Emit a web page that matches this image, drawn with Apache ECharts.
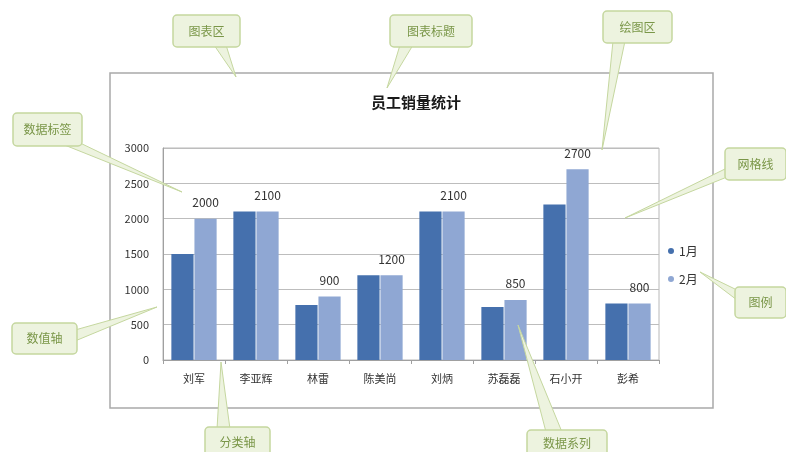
<!DOCTYPE html>
<html><head><meta charset="utf-8">
<script src="https://cdn.jsdelivr.net/npm/echarts@6/dist/echarts.min.js"></script>
<style>html,body{margin:0;padding:0;background:#fff}#c{width:786px;height:452px}</style>
</head><body><div id="c"></div>
<script>
var categories = ['刘军','李亚辉','林雷','陈美尚','刘炳','苏磊磊','石小开','彭希'];
var seriesNames = ['1月','2月'];
var jan = [1500, 2100, 780, 1200, 2100, 750, 2200, 800];
var feb = [2000, 2100, 900, 1200, 2100, 850, 2700, 800];
var yTicks = [0, 500, 1000, 1500, 2000, 2500, 3000];
var titleText = '员工销量统计';
var calloutTexts = ['图表区','图表标题','绘图区','数据标签','网格线','数值轴','图例','分类轴','数据系列'];

var FONT = '"Noto Sans CJK SC", "Noto Sans", sans-serif';
var chart = echarts.init(document.getElementById('c'));

var callouts = [
  {box:[173,15,67,32], base:[[214,45],[226,45]], tip:[236,77]},
  {box:[390,15,82,32], base:[[400,45],[413,45]], tip:[387,88]},
  {box:[603,11,69,32], base:[[613,41],[625,41]], tip:[602,150]},
  {box:[13,113,69,33], base:[[62,144],[76,141]], tip:[182,192]},
  {box:[725,148,61,32], base:[[727,168],[727,177]], tip:[625,218]},
  {box:[12,323,65,31], base:[[75,330],[75,341]], tip:[157,307]},
  {box:[735,287,51,31], base:[[737,290],[737,300]], tip:[700,272]},
  {box:[205,427,65,30], base:[[217,429],[230,429]], tip:[221,362]},
  {box:[527,430,80,26], base:[[546,432],[562,432]], tip:[518,325]}
];
var fillC = '#edf3df', strokeC = '#c5d79f', textC = '#7a9648';
var graphics = [{
  type:'rect', shape:{x:110,y:73,width:603,height:335}, z:-10,
  style:{fill:'#fff', stroke:'#a9a9a9', lineWidth:1.5}
}];
callouts.forEach(function(c, i){
  graphics.push({type:'polygon', z:100, shape:{points:[c.base[0], c.tip, c.base[1]]},
    style:{fill:fillC, stroke:strokeC, lineWidth:1}});
  graphics.push({type:'rect', z:101, shape:{x:c.box[0], y:c.box[1], width:c.box[2], height:c.box[3], r:4},
    style:{fill:fillC, stroke:strokeC, lineWidth:1.5}});
  graphics.push({type:'text', z:102, x:c.box[0]+c.box[2]/2, y:c.box[1]+c.box[3]/2,
    style:{text:calloutTexts[i], fill:textC, font:'12px ' + FONT, textAlign:'center', textVerticalAlign:'middle'}});
});

chart.setOption({
  animation:false,
  title:{text:titleText, left:411, top:90, textAlign:'center',
    textStyle:{fontFamily:FONT, fontSize:15, fontWeight:'bold', color:'#1a1a1a'}},
  legend:{orient:'vertical', left:663, top:240, itemWidth:6, itemHeight:6, itemGap:16, icon:'circle',
    data:seriesNames, textStyle:{fontFamily:FONT, fontSize:12, color:'#333'}},
  grid:{left:163, top:148, right:127, bottom:92, show:true, borderColor:'#b8b8b8', borderWidth:1},
  xAxis:{type:'category', data:categories,
    axisLine:{lineStyle:{color:'#a0a0a0'}},
    axisTick:{show:true, length:4, lineStyle:{color:'#a0a0a0'}},
    axisLabel:{fontFamily:FONT, fontSize:11, color:'#333', margin:13}},
  yAxis:{type:'value', min:yTicks[0], max:yTicks[yTicks.length-1], interval:500,
    axisLine:{show:true, lineStyle:{color:'#a0a0a0'}},
    axisTick:{show:false},
    splitLine:{lineStyle:{color:'#bdbdbd'}},
    axisLabel:{fontFamily:FONT, fontSize:11, color:'#333', margin:14,
      formatter:function(v){ return String(v); }}},
  series:[
    {name:seriesNames[0], type:'bar', data:jan, barGap:'4%', barCategoryGap:'27%',
      itemStyle:{color:'#4570ad'}},
    {name:seriesNames[1], type:'bar', data:feb,
      itemStyle:{color:'#8fa7d3'},
      label:{show:true, position:'top', distance:10, fontFamily:FONT, fontSize:12, color:'#333'}}
  ],
  graphic:graphics
});
</script></body></html>
